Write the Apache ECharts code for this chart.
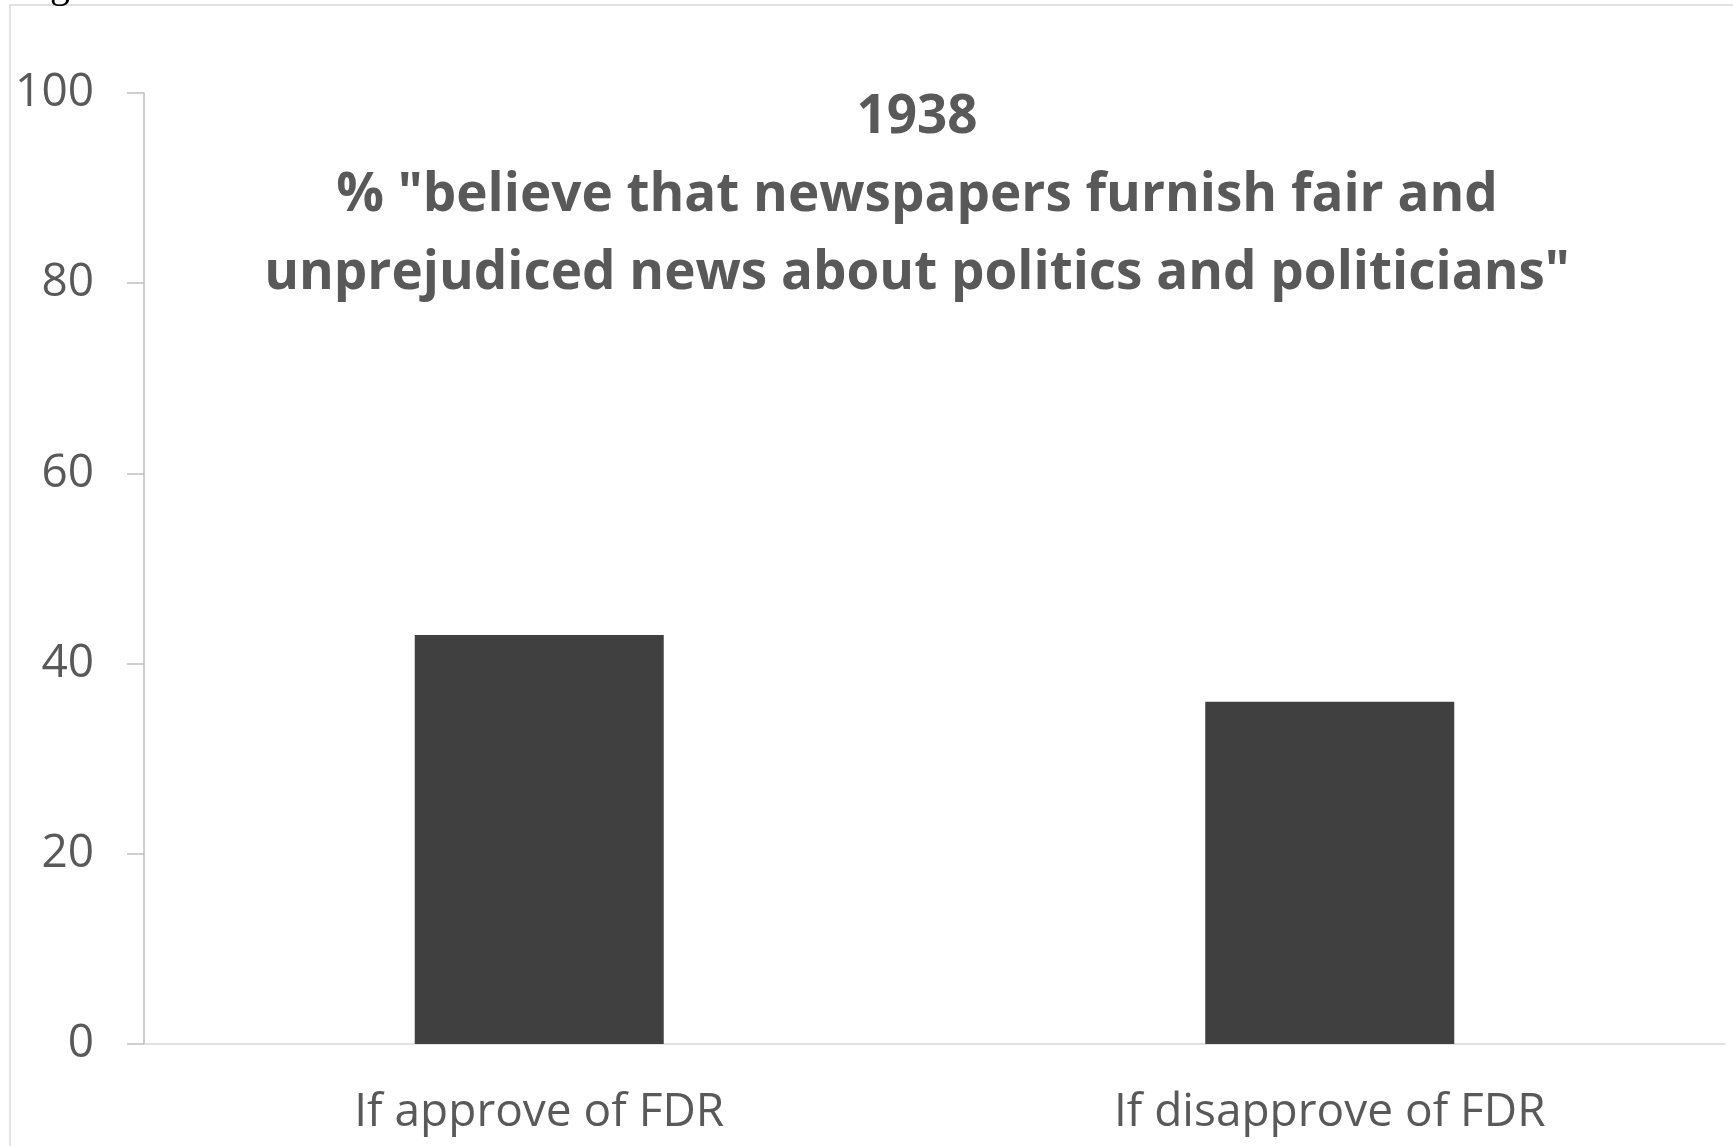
<!DOCTYPE html>
<html>
<head>
<meta charset="utf-8">
<script src="https://cdn.jsdelivr.net/npm/echarts@6/dist/echarts.min.js"></script>
<style>
html,body{margin:0;padding:0;background:#fff;}
#chart{width:1733px;height:1146px;}
</style>
</head>
<body>
<div id="chart"></div>
<script>
var categories = ['If approve of FDR', 'If disapprove of FDR'];
var values = [43, 36];
var titleLines = ['1938', '% "believe that newspapers furnish fair and', 'unprejudiced news about politics and politicians"'];
var yMin = 0, yMax = 100, yStep = 20;

var chart = echarts.init(document.getElementById('chart'));
chart.setOption({
  backgroundColor: '#ffffff',
  animation: false,
  title: {
    text: titleLines.join('\n'),
    left: 912,
    top: 74,
    textAlign: 'center',
    textStyle: {
      fontFamily: 'Open Sans',
      fontWeight: 'bold',
      fontSize: 53,
      lineHeight: 78,
      color: '#595959'
    }
  },
  graphic: [
    {
      type: 'rect',
      shape: { x: 10, y: 5, width: 1900, height: 1300 },
      style: { fill: 'none', stroke: '#d9d9d9', lineWidth: 1.5 },
      silent: true
    },
    {
      type: 'text',
      x: 50, y: 6,
      style: { text: 'g', font: '40px "Liberation Serif"', fill: '#000', textVerticalAlign: 'bottom' },
      silent: true
    }
  ],
  grid: { left: 144, right: 8, top: 93, bottom: 102 },
  xAxis: {
    type: 'category',
    data: categories,
    axisLine: { show: true, lineStyle: { color: '#d9d9d9', width: 1.5 } },
    axisTick: { show: false },
    axisLabel: { margin: 46, fontFamily: 'Open Sans', fontSize: 46, color: '#595959' }
  },
  yAxis: {
    type: 'value',
    min: yMin, max: yMax, interval: yStep,
    axisLine: { show: true, lineStyle: { color: '#bfbfbf', width: 1.5 } },
    axisTick: { show: true, length: 17, lineStyle: { color: '#bfbfbf', width: 1.5 } },
    splitLine: { show: false },
    axisLabel: { margin: 50, fontFamily: 'Open Sans', fontSize: 46, color: '#595959' }
  },
  series: [{
    type: 'bar',
    data: values,
    barWidth: '31.5%',
    itemStyle: { color: '#404040' }
  }]
});
</script>
</body>
</html>
